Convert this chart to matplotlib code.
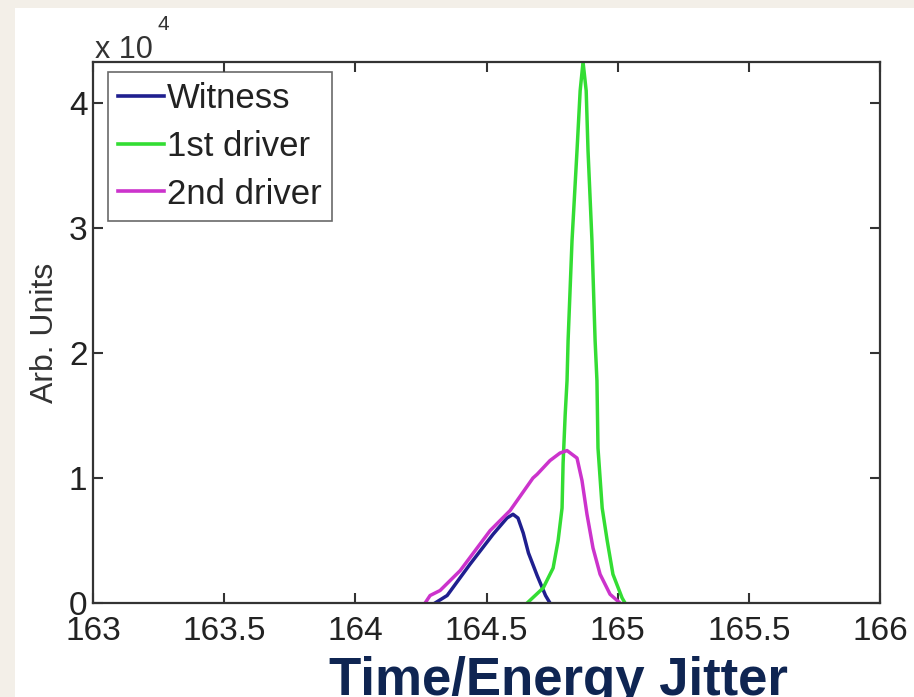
import matplotlib
matplotlib.use("Agg")
import matplotlib.pyplot as plt
from matplotlib.patches import Rectangle
from matplotlib.ticker import FuncFormatter

plt.rcParams['font.family'] = ['Liberation Sans', 'DejaVu Sans']

# Data (x: time/energy, y: arbitrary units)
witness_x = [164.304, 164.35, 164.437, 164.525, 164.578, 164.601, 164.62, 164.64,
             164.66, 164.693, 164.725, 164.742]
witness_y = [0, 600, 3100, 5500, 6800, 7100, 6800, 5600, 4000, 2200, 600, 0]

driver1_x = [164.655, 164.716, 164.754, 164.773, 164.788, 164.792, 164.800, 164.807,
             164.811, 164.826, 164.845, 164.857, 164.868, 164.880, 164.887, 164.902,
             164.914, 164.921, 164.925, 164.941, 164.960, 164.982, 165.017, 165.028]
driver1_y = [0, 1200, 2800, 5000, 7600, 11200, 15100, 17800,
             21000, 29000, 36200, 41000, 43300, 41000, 36200, 29000,
             21000, 17800, 12400, 7600, 5000, 2300, 400, 0]

driver2_x = [164.266, 164.285, 164.323, 164.40, 164.514, 164.59, 164.677, 164.693,
             164.742, 164.78, 164.807, 164.845, 164.864, 164.883, 164.906, 164.933,
             164.971, 165.009]
driver2_y = [0, 600, 1000, 2600, 5800, 7400, 10000, 10300,
             11400, 12000, 12200, 11600, 9800, 7100, 4400, 2300,
             700, 0]

labels = ['Witness', '1st driver', '2nd driver']
colors = ['#1f1f8f', '#33dd33', '#cc33cc']

xticks = [163, 163.5, 164, 164.5, 165, 165.5, 166]
yticks = [0, 10000, 20000, 30000, 40000]

W, H = 914, 697
fig = plt.figure(figsize=(W / 100, H / 100), dpi=100)
fig.patch.set_facecolor('#f3efe8')
bg = Rectangle((15 / W, 0), 1, (H - 8) / H, transform=fig.transFigure,
               facecolor='white', edgecolor='none', zorder=-10)
fig.add_artist(bg)

ax = fig.add_axes([93 / W, (H - 603) / H, (880 - 93) / W, (603 - 62) / H])
ax.set_zorder(1)
ax.set_facecolor('white')

for xs, ys, lab, c in zip([witness_x, driver1_x, driver2_x],
                          [witness_y, driver1_y, driver2_y], labels, colors):
    ax.plot(xs, ys, color=c, lw=2.5, label=lab, solid_joinstyle='round')

ax.set_xlim(163, 166)
ax.set_ylim(0, 43300)
ax.set_xticks(xticks)
ax.set_xticklabels([f'{t:g}' for t in xticks])
ax.set_yticks(yticks)
ax.yaxis.set_major_formatter(FuncFormatter(lambda v, p: f'{v / 1e4:g}'))

for s in ax.spines.values():
    s.set_linewidth(1.6)
    s.set_color('#333333')
ax.tick_params(direction='in', length=7, width=1.5, color='#333333',
               top=True, right=True, labelsize=24, labelcolor='#222222')
ax.tick_params(axis='x', pad=9)
ax.tick_params(axis='y', pad=4)

ax.set_ylabel('Arb. Units', fontsize=23, color='#333333', labelpad=6)

fig.text(95 / W, 1 - 58 / H, 'x 10', fontsize=22, color='#333333', va='baseline', ha='left')
fig.text(157 / W, 1 - 30 / H, '4', fontsize=15, color='#333333', va='baseline', ha='left')

leg = ax.legend(loc='upper left', bbox_to_anchor=(108 / W, 1 - 72 / H),
                bbox_transform=fig.transFigure, fontsize=25, frameon=True,
                fancybox=False, handlelength=1.3, handletextpad=0.1,
                borderpad=0.3, labelspacing=0.42, borderaxespad=0)
leg.get_frame().set_edgecolor('#444444')
leg.get_frame().set_linewidth(1.2)
for t in leg.get_texts():
    t.set_color('#222222')
for l in leg.get_lines():
    l.set_linewidth(2.6)

fig.text(558 / W, 2 / H, 'Time/Energy Jitter', fontsize=38, fontweight='bold',
         color='#0f2552', ha='center', va='baseline')

fig.savefig('out.png', dpi=100, facecolor=fig.get_facecolor())
